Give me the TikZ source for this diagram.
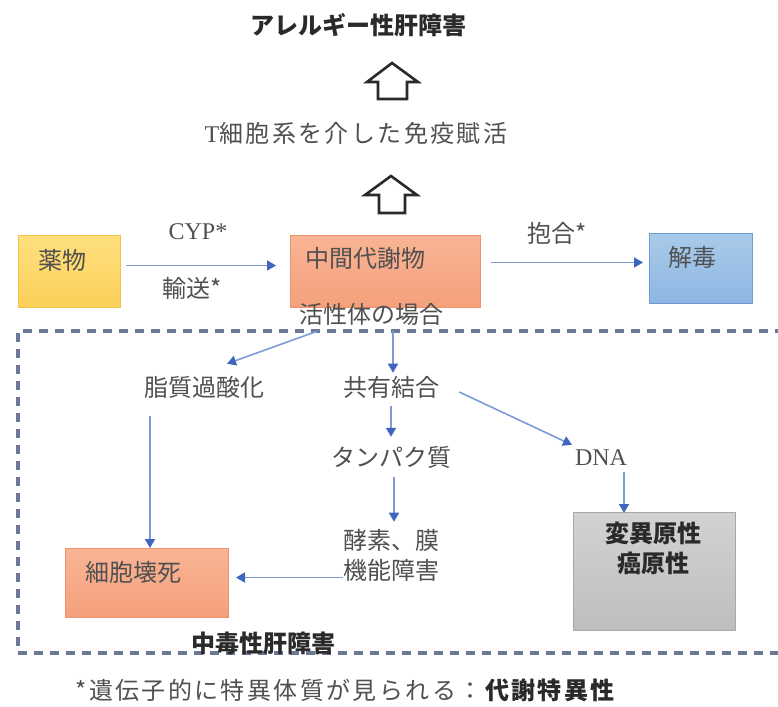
\documentclass[tikz,border=0pt]{standalone}
\usepackage{fontspec}
\setmainfont{Noto Sans CJK JP}
\newfontfamily\lat{Liberation Serif}
\newfontfamily\jpw{Noto Sans CJK JP}[LetterSpace=10]
\usetikzlibrary{arrows.meta}
\definecolor{txtgray}{HTML}{505050}
\definecolor{dark}{HTML}{2A2A2A}
\definecolor{arrline}{HTML}{7D9BD6}
\definecolor{arrhead}{HTML}{3E66BE}
\definecolor{dashc}{HTML}{6B7896}
\definecolor{ylwT}{HTML}{FFE07E}
\definecolor{ylwB}{HTML}{FBD05A}
\definecolor{ylwD}{HTML}{F3C14D}
\definecolor{salT}{HTML}{F9B495}
\definecolor{salB}{HTML}{F5A07C}
\definecolor{salD}{HTML}{F0936C}
\definecolor{bluT}{HTML}{A9CBEA}
\definecolor{bluB}{HTML}{8DB6E2}
\definecolor{bluD}{HTML}{6E9BD0}
\definecolor{gryT}{HTML}{D2D2D2}
\definecolor{gryB}{HTML}{BEBEBE}
\definecolor{gryD}{HTML}{A8A8A8}
\begin{document}
\begin{tikzpicture}[x=1pt,y=-1pt,
  txt/.style={font=\fontsize{24}{30}\selectfont, text=txtgray, inner sep=0pt, align=center},
  btxt/.style={font=\fontsize{24}{30}\selectfont\bfseries, text=dark, inner sep=0pt, align=center},
  box/.style={anchor=north west, inner sep=0pt, line width=1pt},
  arr/.style={draw=arrline, line width=1.6pt, -{Triangle[width=10pt,length=9pt,color=arrhead]}},
  hollow/.style={draw=dark, line width=2.6pt, fill=white, line join=miter},
  dashbox/.style={draw=dashc, line width=3.2pt, dash pattern=on 9pt off 7pt}
]
\useasboundingbox (0,0) rectangle (778,706);
\fill[white] (0,0) rectangle (778,706);

% top texts
\node[btxt] (allergy) at (358,25) {アレルギー性肝障害};
\node[txt, font=\fontsize{24}{30}\jpw] (tcell) at (356,133) {{\lat T}細胞系を介した免疫賦活};

% hollow arrows
\draw[hollow] (392,63) -- (418,82) -- (407,82) -- (407,99) -- (378,99) -- (378,82) -- (367,82) -- cycle;
\draw[hollow] (391,176) -- (417,195) -- (405,195) -- (405,213) -- (379,213) -- (379,195) -- (365,195) -- cycle;

% dashed region
\begin{scope}
\clip (0,0) rectangle (778,706);
\draw[dashbox] (800,331) -- (18,331) -- (18,653) -- (800,653);
\end{scope}

% boxes
\node[box, draw=ylwD, top color=ylwT, bottom color=ylwB, minimum width=102pt, minimum height=72pt] (drug) at (18,235) {};
\node[box, draw=salD, top color=salT, bottom color=salB, minimum width=190pt, minimum height=72pt] (mid) at (290,235) {};
\node[box, draw=bluD, top color=bluT, bottom color=bluB, minimum width=103pt, minimum height=70pt] (detox) at (649,233) {};
\node[box, draw=salD, top color=salT, bottom color=salB, minimum width=163pt, minimum height=69pt] (necro) at (65,548) {};
\node[box, draw=gryD, top color=gryT, bottom color=gryB, minimum width=162pt, minimum height=118pt] (mutag) at (573,512) {};

% box texts
\node[txt] (drugt) at (62,260) {薬物};
\node[txt] (midt) at (365,258) {中間代謝物};
\node[txt] (detoxt) at (692,257) {解毒};
\node[txt] (necrot) at (133,572) {細胞壊死};
\node[btxt] (mutagt) at (653,548) {変異原性\\癌原性};

% labels
\node[txt] (cyp) at (198,232) {\lat CYP*};
\node[txt] (yuso) at (192,288) {輸送*};
\node[txt] (hogo) at (557,233) {抱合*};
\node[txt] (kassei) at (371,314) {活性体の場合};

% inner texts
\node[txt] (lipid) at (204,387) {脂質過酸化};
\node[txt] (kyoyu) at (391,387) {共有結合};
\node[txt] (prot) at (391,457) {タンパク質};
\node[txt] (dna) at (601,458) {\lat DNA};
\node[txt] (enz) at (391,555) {酵素、膜\\機能障害};
\node[btxt] (toxic) at (263,643) {中毒性肝障害};

% footnote
\node[txt, font=\fontsize{24}{30}\jpw] (foot) at (345,690) {*遺伝子的に特異体質が見られる：\textbf{\color{dark}代謝特異性}};

% connectors
\draw[arr] ([shift={(5,-6)}]drug.east) -- ([shift={(-14,-6)}]mid.west);
\draw[arr] ([shift={(10,-9)}]mid.east) -- ([shift={(-6,-6)}]detox.west);
\draw[arr] ([shift={(-54,6)}]kassei.south) -- ([shift={(23,-12)}]lipid.north);
\draw[arr] ([shift={(22,6)}]kassei.south) -- ([shift={(2,-3)}]kyoyu.north);
\draw[arr] ([shift={(0,8)}]kyoyu.south) -- ([shift={(0,-9)}]prot.north);
\draw[arr] ([shift={(20,5)}]kyoyu.east) -- ([shift={(-29,-5)}]dna.north);
\draw[arr] ([shift={(23,6)}]dna.south) -- ([shift={(51,1)}]mutag.north west);
\draw[arr] ([shift={(3,9)}]prot.south) -- ([shift={(3,-7)}]enz.north);
\draw[arr] ([shift={(0,-5.5)}]enz.west |- necro.east) -- ([shift={(7,-5.5)}]necro.east);
\draw[arr] ([shift={(-54,18)}]lipid.south) coordinate (lp) -- (lp |- necro.north);
\end{tikzpicture}
\end{document}
